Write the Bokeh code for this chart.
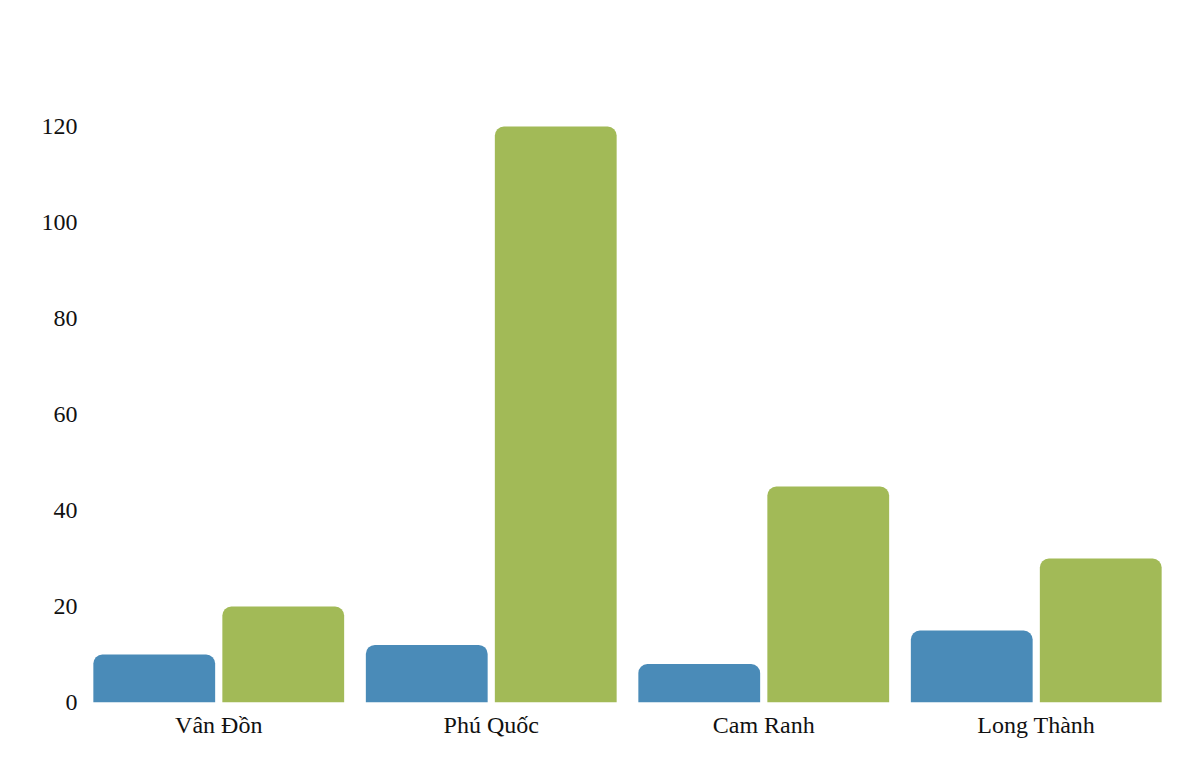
from bokeh.plotting import figure
from bokeh.models import ColumnDataSource, FactorRange, Range1d, FixedTicker
from bokeh.transform import dodge
from bokeh.embed import file_html
from bokeh.resources import INLINE

categories = ["Vân Đồn", "Phú Quốc", "Cam Ranh", "Long Thành"]
series_a = [10, 12, 8, 15]
series_b = [20, 120, 45, 30]
y_ticks = [0, 20, 40, 60, 80, 100, 120]

source = ColumnDataSource(data=dict(cat=categories, a=series_a, b=series_b))

FONT = "Liberation Serif"

p = figure(
    x_range=FactorRange(*categories, range_padding=0),
    y_range=Range1d(0, 140),
    width=1184, height=750,
    frame_width=1090, frame_height=672,
    min_border_left=82, min_border_top=30, min_border_right=12, min_border_bottom=48,
    output_backend="svg", toolbar_location=None,
)

p.vbar(x=dodge("cat", -0.2367, range=p.x_range), top="a", width=0.447, source=source,
       fill_color="#4a8bb8", line_color=None, border_radius=(9, 9, 0, 0))
p.vbar(x=dodge("cat", 0.2367, range=p.x_range), top="b", width=0.447, source=source,
       fill_color="#a2ba57", line_color=None, border_radius=(9, 9, 0, 0))

p.outline_line_color = None
p.xgrid.grid_line_color = None
p.ygrid.grid_line_color = None
p.background_fill_color = "white"
p.border_fill_color = "white"

for ax in (p.xaxis, p.yaxis):
    ax.axis_line_color = None
    ax.major_tick_line_color = None
    ax.minor_tick_line_color = None
    ax.major_tick_out = 0
    ax.major_tick_in = 0
    ax.minor_tick_out = 0
    ax.minor_tick_in = 0
    ax.major_label_text_font = FONT
    ax.major_label_text_font_size = "24px"
    ax.major_label_text_color = "#111111"

p.yaxis.ticker = FixedTicker(ticks=y_ticks)
p.yaxis.major_label_standoff = 5
p.xaxis.major_label_standoff = 9

open("out.html", "w").write(file_html(p, INLINE))
